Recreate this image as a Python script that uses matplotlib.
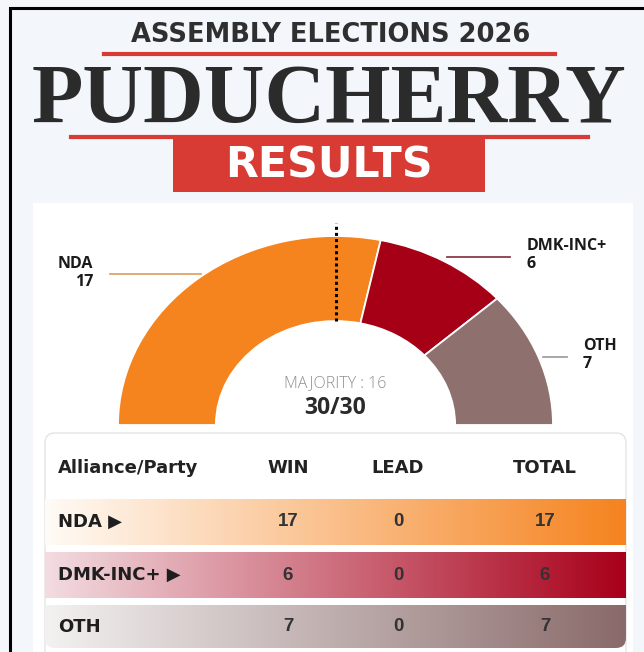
import numpy as np
import matplotlib
matplotlib.use('Agg')
import matplotlib.pyplot as plt
from matplotlib.patches import Wedge, FancyBboxPatch, Rectangle
from matplotlib.colors import to_rgb

plt.rcParams['font.family'] = ['Liberation Sans', 'DejaVu Sans']

# data
parties = ['NDA', 'DMK-INC+', 'OTH']
seats = [17, 6, 7]
wins = [17, 6, 7]
leads = [0, 0, 0]
totals = [17, 6, 7]
total_seats = 30
majority = 16
declared = 30
col_names = ['Alliance/Party', 'WIN', 'LEAD', 'TOTAL']

colors = ['#F5841F', '#A50016', '#8E706F']
grad_left = ['#FFFBF6', '#F3DCE1', '#F3F1F1']
grad_right = ['#F5831F', '#A8001A', '#8A6A6A']
leader_colors = ['#DDA46A', '#8A3C4A', '#A0A0A0']

W, H = 644, 652
fig = plt.figure(figsize=(W / 100, H / 100), dpi=100)
fig.patch.set_facecolor('#F3F6FB')
ax = fig.add_axes([0, 0, 1, 1])
ax.set_xlim(0, W)
ax.set_ylim(H, 0)
ax.axis('off')

# frame + cards
ax.plot([10, 10, W], [H, 8, 8], color='black', lw=2.2, solid_joinstyle='miter')
ax.add_patch(Rectangle((33, 203), 600, 460, facecolor='white', edgecolor='none'))

# header
t1 = ax.text(331, 42, 'ASSEMBLY ELECTIONS 2026', ha='center', va='baseline',
             fontsize=18, fontweight='bold', color='#2f2f2f', family=['DejaVu Sans'])
ax.plot([104, 555], [54, 54], color='#D83A34', lw=3)
t2 = ax.text(329, 123, 'PUDUCHERRY', ha='center', va='baseline',
             fontsize=60, fontweight='bold', color='#2b2b2b', family=['Liberation Serif'])
ax.plot([71, 588], [137, 137], color='#D83A34', lw=3)
ax.add_patch(Rectangle((173, 138), 312, 54, facecolor='#D83A34', edgecolor='none'))
t3 = ax.text(329, 178, 'RESULTS', ha='center', va='baseline',
             fontsize=24, fontweight='bold', color='white', family=['DejaVu Sans'])

r = fig.canvas.get_renderer()
for t, target in [(t1, 398), (t2, 595), (t3, 208)]:
    w = t.get_window_extent(r).width
    t.set_fontsize(t.get_fontsize() * target / w)

# table card
ax.add_patch(FancyBboxPatch((45, 433), 581, 240, boxstyle='round,pad=0,rounding_size=10',
                            facecolor='white', edgecolor='#E4E4E4', lw=1))

tfont = ['DejaVu Sans']
col_x = [58, 288, 398, 545]
ax.text(col_x[0], 468, col_names[0], ha='left', va='center', fontsize=13,
        fontweight='bold', color='#222222', family=tfont)
for x, name in zip(col_x[1:], col_names[1:]):
    ax.text(x, 468, name, ha='center', va='center', fontsize=13,
            fontweight='bold', color='#222222', family=tfont)

row_top = [499, 552, 605]
row_h = [46, 46, 43]
for i, p in enumerate(parties):
    c0 = np.array(to_rgb(grad_left[i]))
    c1 = np.array(to_rgb(grad_right[i]))
    s = np.linspace(0, 1, 256)[:, None]
    img = (c0 + (c1 - c0) * s)[None, :, :]
    y0, y1 = row_top[i], row_top[i] + row_h[i]
    im = ax.imshow(img, extent=[45, 626, y1, y0], aspect='auto', zorder=2)
    if i == len(parties) - 1:
        clip = FancyBboxPatch((45, 570), 581, y1 - 570, boxstyle='round,pad=0,rounding_size=10',
                              facecolor='none', edgecolor='none', transform=ax.transData)
        im.set_clip_path(clip)
    yc = (y0 + y1) / 2
    label = p if p == 'OTH' else p + ' \u25B6'
    ax.text(col_x[0], yc, label, ha='left', va='center', fontsize=13,
            fontweight='bold', color='#1e1e1e', zorder=3, family=tfont)
    for x, v in zip(col_x[1:], [wins[i], leads[i], totals[i]]):
        ax.text(x, yc, str(v), ha='center', va='center', fontsize=13.5,
                fontweight='bold', color='#333333', zorder=3)
ax.set_xlim(0, W)
ax.set_ylim(H, 0)

# half donut (pixel box of the chart area, elliptical like the reference)
cx, cy, rx, ry = 335.5, 425, 217.5, 189
bx0, by0, bx1, by1 = 33, 203, 633, 430
dax = fig.add_axes([bx0 / W, 1 - by1 / H, (bx1 - bx0) / W, (by1 - by0) / H])
dax.set_xlim((bx0 - cx) / rx, (bx1 - cx) / rx)
dax.set_ylim((cy - by1) / ry, (cy - by0) / ry)
dax.axis('off')
dax.patch.set_alpha(0)

start = 180
for i, n in enumerate(seats):
    end = start - 180 * n / total_seats
    dax.add_patch(Wedge((0, 0), 1, end, start, width=0.45, facecolor=colors[i],
                        edgecolor='white', lw=1.3))
    start = end

# majority marker
dax.plot([0, 0], [0.55, 1.07], color='black', lw=2.2, linestyle=(0, (1, 1)), clip_on=False)

# labels + leader lines
lfont = ['Open Sans', 'DejaVu Sans']
dax.plot([-1.037, -0.62], [0.80, 0.80], color=leader_colors[0], lw=1.3, clip_on=False)
dax.text(-1.115, 0.804, f'{parties[0]}\n{seats[0]}', ha='right', va='center', ma='right',
         fontsize=11.5, fontweight='bold', color='#1a1a1a', linespacing=1.2, family=lfont)
dax.plot([0.513, 0.802], [0.889, 0.889], color=leader_colors[1], lw=1.3, clip_on=False)
dax.text(0.880, 0.899, f'{parties[1]}\n{seats[1]}', ha='left', va='center', ma='left',
         fontsize=11.5, fontweight='bold', color='#1a1a1a', linespacing=1.2, family=lfont)
dax.plot([0.954, 1.064], [0.36, 0.36], color=leader_colors[2], lw=1.3, clip_on=False)
dax.text(1.138, 0.370, f'{parties[2]}\n{seats[2]}', ha='left', va='center', ma='left',
         fontsize=11.5, fontweight='bold', color='#1a1a1a', linespacing=1.2, family=lfont)

dax.text(0, 0.222, f'MAJORITY : {majority}', ha='center', va='center', fontsize=11.5,
         color='#8f8f8f', family=lfont, fontweight='light')
dax.text(0, 0.09, f'{declared}/{total_seats}', ha='center', va='center', fontsize=16.5,
         fontweight='bold', color='#2a2a2a', family=lfont)

fig.savefig('out.png', dpi=100, facecolor=fig.get_facecolor())
